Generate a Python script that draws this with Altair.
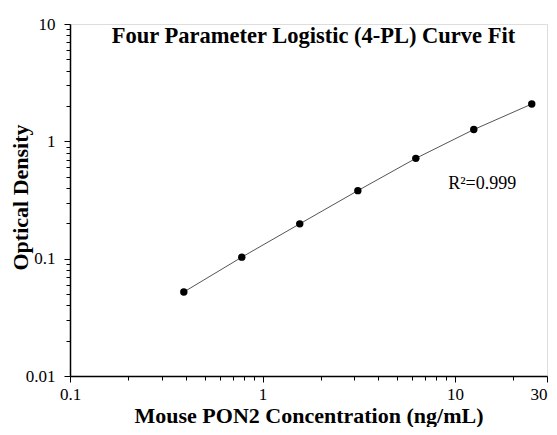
import altair as alt
import pandas as pd

conc = [0.39, 0.78, 1.56, 3.125, 6.25, 12.5, 25.0]
od = [0.052, 0.103, 0.198, 0.380, 0.716, 1.26, 2.08]

x_major = [0.1, 1, 10, 30]
x_minor = [0.2, 0.3, 0.4, 0.5, 0.6, 0.7, 0.8, 0.9, 2, 3, 4, 5, 6, 7, 8, 9, 20]
y_major = [0.01, 0.1, 1, 10]
y_minor = [0.02, 0.03, 0.04, 0.05, 0.06, 0.07, 0.08, 0.09,
           0.2, 0.3, 0.4, 0.5, 0.6, 0.7, 0.8, 0.9,
           2, 3, 4, 5, 6, 7, 8, 9]

annot_x = [9.2]
annot_y = [0.43]
annot_text = ["R\u00b2=0.999"]

df = pd.DataFrame({"conc": conc, "od": od})
ann = pd.DataFrame({"x": annot_x, "y": annot_y, "t": annot_text})

FONT = "Liberation Serif"

def major_test(vals):
    return "indexof([" + ",".join(str(v) for v in vals) + "], datum.value) >= 0"

xscale = alt.Scale(type="log", domain=[0.1, 30], nice=False)
yscale = alt.Scale(type="log", domain=[0.01, 10], nice=False)

xaxis = alt.Axis(
    values=sorted(x_major + x_minor),
    labelExpr=major_test(x_major) + " ? format(datum.value, '~g') : ''",
    labelAlign={"condition": {"test": "datum.value == 30", "value": "right"}, "value": "center"},
    title="Mouse PON2 Concentration (ng/mL)",
    titleFont=FONT, titleFontSize=22, titleFontWeight="bold", titleColor="black",
    titleBaseline="alphabetic", titleY=46,
    labelFont=FONT, labelFontSize=17, labelColor="black", labelPadding=4,
    labelFlush=False, labelOverlap=False,
    grid=False, domainColor="black", domainWidth=1.5,
    tickColor="black", tickWidth=1,
    tickSize={"condition": {"test": major_test(x_major), "value": 6}, "value": 4},
)
yaxis = alt.Axis(
    values=sorted(y_major + y_minor),
    labelExpr=major_test(y_major) + " ? format(datum.value, '~g') : ''",
    title="Optical Density",
    titleFont=FONT, titleFontSize=22, titleFontWeight="bold", titleColor="black",
    titleBaseline="top", titleX=-60, titleY=173,
    labelFont=FONT, labelFontSize=17, labelColor="black", labelPadding=9,
    labelFlush=False, labelOverlap=False,
    grid=False, domainColor="black", domainWidth=1.5,
    tickColor="black", tickWidth=1,
    tickSize={"condition": {"test": major_test(y_major), "value": 6}, "value": 4},
)

base = alt.Chart(df)
line = base.mark_line(color="#555555", strokeWidth=1).encode(
    x=alt.X("conc:Q", scale=xscale, axis=xaxis),
    y=alt.Y("od:Q", scale=yscale, axis=yaxis),
)
pts = base.mark_circle(color="black", opacity=1, size=55).encode(
    x=alt.X("conc:Q", scale=xscale),
    y=alt.Y("od:Q", scale=yscale),
)
txt = alt.Chart(ann).mark_text(font=FONT, fontSize=18, color="black", align="left").encode(
    x=alt.X("x:Q", scale=xscale),
    y=alt.Y("y:Q", scale=yscale),
    text="t:N",
)

chart = alt.layer(line, pts, txt).properties(
    width=477,
    height=352,
    title=alt.TitleParams(
        "Four Parameter Logistic (4-PL) Curve Fit",
        font=FONT, fontSize=22.5, fontWeight="bold", color="black",
        anchor="middle", dx=5, offset=-32, frame="group",
    ),
    autosize=alt.AutoSizeParams(type="none"),
    padding={"left": 62, "top": 16, "right": 2, "bottom": 51},
).configure_view(stroke=None).configure(background="white")

chart.save("out.html", embed_options={"renderer": "svg", "actions": False})
